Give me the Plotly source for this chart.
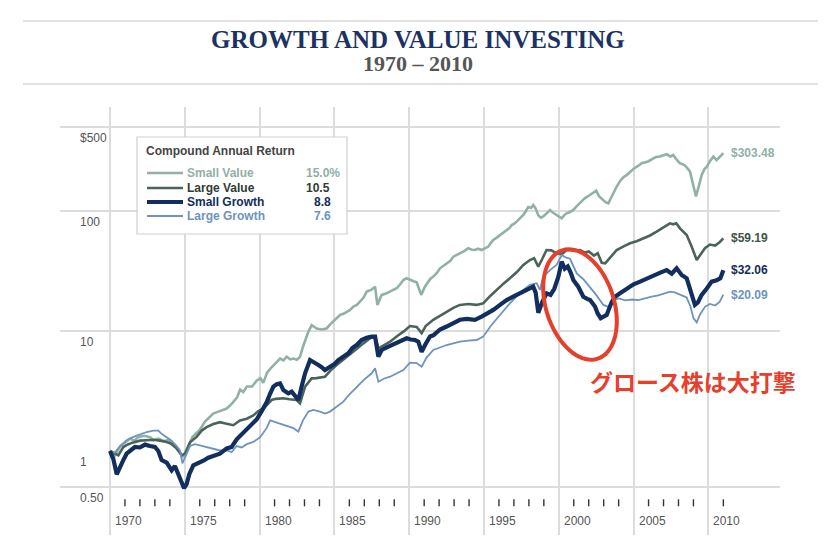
import math
import numpy as np
import plotly.graph_objects as go

# ---------------- data ----------------
SV_YEARS = [1970.0, 1970.33, 1970.67, 1971.0, 1971.35, 1971.6, 1971.9, 1972.3, 1972.7, 1972.9,
            1973.25, 1973.6, 1973.9, 1974.15, 1974.4, 1974.7, 1974.87, 1975.0, 1975.25, 1975.5,
            1975.8, 1976.0, 1976.35, 1976.7, 1976.9, 1977.2, 1977.45, 1977.8, 1978.15, 1978.5,
            1978.7, 1978.9, 1979.15, 1979.5, 1979.8, 1980.05, 1980.25, 1980.5, 1980.75, 1981.0,
            1981.37, 1981.6, 1981.81, 1982.05, 1982.26, 1982.5, 1982.7, 1982.9, 1983.04, 1983.25,
            1983.48, 1983.65, 1983.82, 1984.15, 1984.48, 1984.7, 1984.93, 1985.15, 1985.38, 1985.6,
            1985.82, 1986.05, 1986.27, 1986.5, 1986.71, 1986.95, 1987.16, 1987.45, 1987.72, 1987.87,
            1988.0, 1988.16, 1988.45, 1988.72, 1988.95, 1989.16, 1989.4, 1989.61, 1989.83, 1990.05,
            1990.3, 1990.5, 1990.65, 1990.8, 1991.06, 1991.2, 1991.39, 1991.61, 1991.85, 1992.06,
            1992.3, 1992.5, 1992.75, 1992.95, 1993.2, 1993.39, 1993.7, 1993.95, 1994.2, 1994.39,
            1994.6, 1994.84, 1995.05, 1995.29, 1995.45, 1995.62, 1995.85, 1996.07, 1996.3, 1996.51,
            1996.7, 1996.85, 1997.0, 1997.18, 1997.4, 1997.63, 1997.8, 1997.96, 1998.15, 1998.29,
            1998.45, 1998.63, 1998.8, 1998.96, 1999.2, 1999.41, 1999.6, 1999.85, 2000.0, 2000.19,
            2000.35, 2000.52, 2000.75, 2000.97, 2001.2, 2001.41, 2001.6, 2001.75, 2002.08, 2002.3,
            2002.5, 2002.7, 2002.98, 2003.15, 2003.31, 2003.55, 2003.87, 2004.1, 2004.3, 2004.55,
            2004.76, 2005.0, 2005.25, 2005.54, 2005.8, 2006.0, 2006.32, 2006.5, 2006.75, 2007.0,
            2007.21, 2007.45, 2007.65, 2007.9, 2008.1, 2008.3, 2008.5, 2008.77, 2008.95, 2009.17,
            2009.35, 2009.55, 2009.75, 2009.9, 2010.1, 2010.33, 2010.55, 2010.75, 2011.0]
SV_VALUES = [1.00, 0.92, 1.09, 1.18, 1.27, 1.22, 1.31, 1.34, 1.30, 1.23,
             1.27, 1.21, 1.23, 1.12, 1.07, 0.96, 0.90, 0.94, 1.12, 1.30,
             1.42, 1.50, 1.76, 1.95, 2.05, 2.12, 2.18, 2.26, 2.48, 2.80,
             3.25, 3.10, 3.45, 3.45, 3.85, 4.05, 3.70, 4.50, 4.90, 5.30,
             5.90, 5.70, 6.10, 5.80, 5.90, 5.75, 6.10, 7.40, 8.40, 9.80,
             11.2, 10.8, 10.5, 10.3, 10.5, 11.3, 12.0, 12.6, 13.6, 13.9,
             14.5, 15.0, 16.0, 16.5, 17.6, 19.0, 21.3, 22.0, 23.4, 16.5,
             18.0, 20.0, 20.5, 21.3, 21.8, 22.7, 24.5, 26.6, 27.5, 26.6,
             26.0, 25.5, 22.5, 20.0, 23.5, 25.0, 27.0, 28.4, 30.5, 33.3,
             35.0, 36.6, 38.5, 41.6, 43.0, 44.4, 46.5, 48.9, 47.5, 47.3,
             48.5, 47.3, 48.5, 50.5, 54.0, 57.3, 60.0, 63.1, 66.0, 69.5,
             72.0, 76.4, 78.0, 81.5, 87.0, 92.6, 100.0, 108.0, 106.0, 112.0,
             105.0, 92.0, 88.0, 90.0, 96.0, 102.0, 97.0, 92.6, 90.0, 87.0,
             92.0, 95.6, 98.0, 102.0, 110.0, 116.0, 122.0, 128.0, 136.0, 142.0,
             148.0, 132.0, 124.0, 118.0, 116.0, 135.0, 160.0, 178.0, 190.0, 200.0,
             213.0, 225.0, 235.0, 250.0, 255.0, 260.0, 275.0, 282.0, 285.0, 290.0,
             297.0, 285.0, 293.0, 265.0, 250.0, 245.0, 235.0, 213.0, 170.0, 132.0,
             160.0, 200.0, 225.0, 234.0, 260.0, 284.0, 265.0, 280.0, 303.48]

LV_YEARS = [1970.0, 1970.33, 1970.56, 1970.89, 1971.23, 1971.56, 1972.0, 1972.45, 1972.9, 1973.34,
            1973.79, 1974.12, 1974.46, 1974.79, 1975.01, 1975.35, 1975.79, 1976.13, 1976.46, 1976.91,
            1977.35, 1977.8, 1978.24, 1978.69, 1979.14, 1979.58, 1979.92, 1980.25, 1980.58, 1980.8,
            1981.1, 1981.59, 1982.0, 1982.48, 1982.7, 1982.9, 1983.04, 1983.48, 1983.8, 1984.37,
            1984.75, 1985.15, 1985.6, 1986.04, 1986.5, 1986.94, 1987.38, 1987.72, 1987.94, 1988.3,
            1988.72, 1989.16, 1989.61, 1990.05, 1990.5, 1990.83, 1991.1, 1991.61, 1992.05, 1992.5,
            1992.95, 1993.39, 1993.95, 1994.51, 1994.95, 1995.4, 1995.84, 1996.3, 1996.73, 1997.2,
            1997.63, 1998.07, 1998.35, 1998.63, 1998.9, 1999.18, 1999.5, 1999.85, 2000.19, 2000.52,
            2000.75, 2001.1, 2001.42, 2001.75, 2002.0, 2002.35, 2002.6, 2002.87, 2003.1, 2003.45,
            2003.87, 2004.3, 2004.76, 2005.2, 2005.65, 2006.1, 2006.54, 2007.0, 2007.43, 2007.65,
            2007.85, 2008.1, 2008.55, 2008.88, 2009.22, 2009.45, 2009.77, 2010.1, 2010.45, 2010.75,
            2011.0]
LV_VALUES = [1.00, 0.95, 0.92, 1.08, 1.14, 1.18, 1.22, 1.23, 1.24, 1.22,
             1.19, 1.15, 1.05, 0.92, 0.95, 1.18, 1.31, 1.48, 1.58, 1.68,
             1.74, 1.69, 1.64, 1.80, 1.86, 1.98, 2.15, 2.25, 2.50, 2.66,
             2.72, 2.75, 2.70, 2.66, 2.50, 3.00, 3.44, 4.03, 4.05, 4.16,
             4.70, 5.21, 5.75, 6.31, 7.10, 7.89, 8.69, 8.97, 7.17, 7.60,
             8.15, 9.00, 9.87, 11.0, 10.8, 9.6, 11.0, 12.4, 13.4, 14.5,
             15.6, 16.5, 16.8, 16.5, 17.0, 19.5, 22.0, 24.8, 27.5, 31.0,
             35.5, 39.0, 40.5, 34.4, 40.0, 47.3, 47.0, 44.4, 43.5, 47.3,
             47.3, 46.5, 47.3, 45.0, 46.0, 42.5, 44.5, 37.0, 36.6, 41.0,
             47.3, 50.5, 53.8, 56.0, 59.2, 62.5, 67.3, 73.0, 78.9, 77.5,
             79.0, 71.7, 63.0, 50.5, 39.0, 43.0, 48.9, 52.5, 51.5, 55.0,
             59.19]

SG_YEARS = [1970.0, 1970.22, 1970.45, 1970.67, 1970.89, 1971.11, 1971.34, 1971.67, 1972.0, 1972.34,
            1972.67, 1973.0, 1973.23, 1973.45, 1973.79, 1974.12, 1974.34, 1974.57, 1974.79, 1974.95,
            1975.12, 1975.3, 1975.57, 1975.9, 1976.24, 1976.57, 1977.02, 1977.35, 1977.8, 1978.13,
            1978.47, 1978.8, 1979.14, 1979.47, 1979.8, 1980.14, 1980.47, 1980.7, 1980.92, 1981.15,
            1981.37, 1981.59, 1981.92, 1982.15, 1982.37, 1982.59, 1982.81, 1983.04, 1983.37, 1983.59,
            1983.93, 1984.15, 1984.37, 1984.71, 1985.0, 1985.26, 1985.6, 1985.93, 1986.2, 1986.49,
            1986.82, 1987.15, 1987.49, 1987.72, 1987.94, 1988.16, 1988.5, 1988.83, 1989.15, 1989.5,
            1989.83, 1990.1, 1990.39, 1990.61, 1990.83, 1991.06, 1991.39, 1991.61, 1992.06, 1992.5,
            1992.95, 1993.39, 1993.85, 1994.39, 1994.84, 1995.25, 1995.62, 1996.07, 1996.51, 1996.95,
            1997.4, 1997.85, 1998.29, 1998.45, 1998.63, 1998.9, 1999.19, 1999.45, 1999.7, 1999.97,
            2000.19, 2000.4, 2000.6, 2000.8, 2000.97, 2001.3, 2001.64, 2001.9, 2002.09, 2002.42,
            2002.6, 2002.8, 2003.0, 2003.2, 2003.54, 2003.76, 2004.09, 2004.54, 2005.0, 2005.43,
            2005.9, 2006.32, 2006.75, 2007.21, 2007.55, 2007.88, 2008.21, 2008.55, 2008.88, 2009.1,
            2009.3, 2009.55, 2009.88, 2010.22, 2010.55, 2010.8, 2011.0]
SG_VALUES = [1.00, 0.86, 0.64, 0.75, 0.84, 0.95, 1.01, 1.08, 1.07, 1.13,
             1.10, 1.08, 1.00, 0.84, 0.80, 0.69, 0.75, 0.64, 0.55, 0.49,
             0.53, 0.64, 0.76, 0.79, 0.83, 0.88, 0.91, 0.95, 1.05, 1.08,
             1.25, 1.38, 1.50, 1.65, 1.83, 2.15, 2.55, 3.00, 3.44, 3.60,
             3.66, 3.22, 3.02, 3.12, 2.84, 2.66, 3.44, 4.44, 5.73, 5.55,
             5.21, 5.00, 4.73, 5.04, 5.30, 5.73, 6.10, 6.51, 7.20, 7.64,
             8.41, 8.80, 8.97, 8.97, 6.11, 6.95, 7.30, 7.64, 8.00, 8.41,
             8.69, 8.50, 8.41, 8.15, 6.70, 7.64, 9.00, 9.20, 10.3, 10.9,
             11.7, 12.4, 12.6, 12.4, 13.2, 14.0, 15.0, 16.5, 18.1, 19.3,
             20.6, 22.0, 23.4, 21.0, 14.2, 17.5, 20.6, 20.0, 22.5, 28.4,
             37.8, 33.0, 34.5, 30.5, 26.6, 23.4, 19.3, 18.5, 18.1, 16.0,
             14.0, 12.8, 13.2, 13.6, 17.5, 19.3, 20.6, 22.7, 24.5, 25.8,
             27.5, 29.3, 30.5, 32.2, 30.0, 33.3, 29.3, 27.5, 20.0, 16.5,
             17.3, 20.0, 22.5, 25.8, 26.5, 27.5, 32.06]

LG_YEARS = [1970.0, 1970.33, 1970.67, 1971.11, 1971.56, 1972.0, 1972.45, 1972.9, 1973.23, 1973.45,
            1973.79, 1974.12, 1974.46, 1974.68, 1974.84, 1975.12, 1975.35, 1975.68, 1976.02, 1976.46,
            1976.91, 1977.35, 1977.8, 1978.13, 1978.47, 1978.8, 1979.14, 1979.58, 1980.03, 1980.47,
            1980.7, 1981.0, 1981.3, 1981.81, 1982.26, 1982.59, 1982.9, 1983.26, 1983.6, 1984.04,
            1984.37, 1984.71, 1985.15, 1985.6, 1986.04, 1986.49, 1986.95, 1987.49, 1987.72, 1987.94,
            1988.3, 1988.72, 1989.16, 1989.61, 1990.05, 1990.5, 1990.83, 1991.16, 1991.61, 1992.05,
            1992.5, 1992.95, 1993.39, 1993.95, 1994.51, 1994.95, 1995.4, 1995.84, 1996.3, 1996.73,
            1997.2, 1997.63, 1998.07, 1998.52, 1998.74, 1998.96, 1999.41, 1999.85, 2000.2, 2000.45,
            2000.75, 2001.2, 2001.64, 2002.09, 2002.5, 2002.98, 2003.31, 2003.65, 2004.0, 2004.45,
            2004.9, 2005.32, 2005.75, 2006.21, 2006.65, 2007.0, 2007.43, 2007.75, 2008.1, 2008.55,
            2008.8, 2009.0, 2009.22, 2009.45, 2009.77, 2010.1, 2010.45, 2010.75, 2011.0]
LG_VALUES = [1.00, 0.97, 1.10, 1.23, 1.31, 1.38, 1.44, 1.48, 1.48, 1.39,
             1.31, 1.22, 1.10, 1.01, 0.79, 0.95, 1.10, 1.14, 1.11, 1.08,
             1.05, 1.01, 1.01, 0.98, 1.10, 1.07, 1.14, 1.19, 1.30, 1.55,
             1.80, 1.75, 1.70, 1.60, 1.55, 1.45, 1.80, 2.13, 2.20, 2.13,
             2.05, 2.13, 2.35, 2.58, 3.00, 3.44, 3.90, 4.44, 4.89, 3.78,
             4.00, 4.16, 4.45, 4.73, 5.45, 5.40, 5.04, 6.00, 6.95, 7.30,
             7.64, 7.90, 8.15, 8.30, 8.41, 8.97, 10.8, 12.6, 14.8, 17.0,
             19.5, 22.0, 24.2, 25.0, 22.0, 28.4, 32.2, 35.5, 43.0, 41.0,
             40.0, 30.2, 27.0, 23.1, 20.0, 16.5, 15.9, 18.0, 18.7, 18.0,
             18.3, 18.1, 18.8, 19.3, 19.8, 20.5, 21.3, 21.0, 20.0, 19.0,
             16.0, 12.8, 11.8, 13.8, 15.9, 16.8, 16.3, 17.5, 20.09]

SERIES_NAMES = ["Small Value", "Large Value", "Small Growth", "Large Growth"]
SERIES_RETURNS = ["15.0%", "10.5", "8.8", "7.6"]
END_LABELS = ["$303.48", "$59.19", "$32.06", "$20.09"]

Y_TICK_VALUES = [500, 100, 10, 1, 0.5]
Y_TICK_LABELS = ["$500", "100", "10", "1", "0.50"]
X_TICK_YEARS = [1970, 1975, 1980, 1985, 1990, 1995, 2000, 2005, 2010]
MINOR_TICK_YEARS = [y for y in range(1971, 2012) if y % 5 != 0]

TITLE = "GROWTH AND VALUE INVESTING"
SUBTITLE = "1970 \u2013 2010"
LEGEND_TITLE = "Compound Annual Return"
CALLOUT = "グロース株は大打撃"

# ---------------- styling ----------------
COLORS = ["#8fb1a7", "#4b6459", "#112e5e", "#6e93bd"]
TEXT_COLORS = ["#8fb1a7", "#2f3b36", "#112e5e", "#6e93bd"]
WIDTHS = [2.6, 2.6, 4.2, 1.8]
SANS = "Liberation Sans, Arial, Helvetica, sans-serif"
SERIF = "Liberation Serif, Times New Roman, serif"
CJK = "Noto Sans CJK JP, Noto Sans CJK SC, sans-serif"

W, H = 840, 551
L, R, T, B = 60, 60, 107, 16
PW, PH = W - L - R, H - T - B


def px(X):
    return (X - L) / PW


def py(Y):
    return (H - B - Y) / PH


PX_PER_YEAR = 14.96
X0_PIX = 110.0
X_RANGE = [1970 + (L - X0_PIX) / PX_PER_YEAR, 1970 + (W - R - X0_PIX) / PX_PER_YEAR]
Y_RANGE = [(451 - (H - B)) / 120.0, (451 - T) / 120.0]

fig = go.Figure()

series = [(SV_YEARS, SV_VALUES), (LV_YEARS, LV_VALUES), (LG_YEARS, LG_VALUES), (SG_YEARS, SG_VALUES)]
order = [0, 1, 3, 2]
for k, (xs, ys) in zip(order, series):
    assert len(xs) == len(ys)
    fig.add_trace(go.Scatter(x=xs, y=ys, mode="lines", name=SERIES_NAMES[k],
                             line=dict(color=COLORS[k], width=WIDTHS[k]),
                             hoverinfo="skip", showlegend=False))

# small year ticks
fig.add_trace(go.Scatter(x=MINOR_TICK_YEARS, y=[0.37] * len(MINOR_TICK_YEARS), mode="markers",
                         marker=dict(symbol="line-ns", size=5, line=dict(color="#333333", width=1.4)),
                         hoverinfo="skip", showlegend=False))

shapes = []
annotations = []

# dark reference line at $1
shapes.append(dict(type="line", xref="paper", yref="y", x0=0, x1=1, y0=0, y1=0,
                   line=dict(color="#8c8c8c", width=2), layer="below"))

# title rules
for Yl in (21, 84):
    shapes.append(dict(type="line", xref="paper", yref="paper", x0=px(23), x1=px(818),
                       y0=py(Yl), y1=py(Yl), line=dict(color="#d8d8d8", width=1.5)))

# title
annotations.append(dict(text="<b>" + TITLE + "</b>", xref="paper", yref="paper", x=px(418), y=py(39),
                        xanchor="center", yanchor="middle", showarrow=False,
                        font=dict(family=SERIF, size=25, color="#1b3263")))
annotations.append(dict(text="<b>" + SUBTITLE + "</b>", xref="paper", yref="paper", x=px(418), y=py(63),
                        xanchor="center", yanchor="middle", showarrow=False,
                        font=dict(family=SERIF, size=22, color="#555555")))

# y tick labels
for v, lab in zip(Y_TICK_VALUES, Y_TICK_LABELS):
    annotations.append(dict(text=lab, xref="paper", yref="y", x=px(78), y=math.log10(v),
                            xanchor="left", yanchor="middle", yshift=-11, showarrow=False,
                            font=dict(family=SANS, size=12, color="#555555")))

# x tick labels
for yr in X_TICK_YEARS:
    annotations.append(dict(text=str(yr), xref="x", yref="paper", x=yr, y=py(521),
                            xanchor="left", yanchor="middle", xshift=3, showarrow=False,
                            font=dict(family=SANS, size=12, color="#555555")))

# end labels
ends = [SV_VALUES[-1], LV_VALUES[-1], SG_VALUES[-1], LG_VALUES[-1]]
for k in range(4):
    annotations.append(dict(text="<b>" + END_LABELS[k] + "</b>", xref="x", yref="y",
                            x=2011.0, y=math.log10(ends[k]), xanchor="left", yanchor="middle",
                            xshift=6, showarrow=False,
                            font=dict(family=SANS, size=12, color=COLORS[k] if k != 1 else "#3f5449")))

# legend box
shapes.append(dict(type="rect", xref="paper", yref="paper", x0=px(137), x1=px(347), y0=py(234), y1=py(137),
                   line=dict(color="#cfcfcf", width=1.2), fillcolor="white", layer="above"))
annotations.append(dict(text="<b>" + LEGEND_TITLE + "</b>", xref="paper", yref="paper", x=px(144), y=py(151),
                        xanchor="left", yanchor="middle", showarrow=False,
                        font=dict(family=SANS, size=12, color="#444444")))
rows_y = [173, 188, 202, 216]
ret_x = [304, 304, 312, 312]
for k in range(4):
    shapes.append(dict(type="line", xref="paper", yref="paper", x0=px(147), x1=px(183),
                       y0=py(rows_y[k]), y1=py(rows_y[k]),
                       line=dict(color=COLORS[k], width=WIDTHS[k] - (0.4 if k == 2 else 0)), layer="above"))
    annotations.append(dict(text="<b>" + SERIES_NAMES[k] + "</b>", xref="paper", yref="paper",
                            x=px(185), y=py(rows_y[k]), xanchor="left", yanchor="middle", showarrow=False,
                            font=dict(family=SANS, size=12, color=TEXT_COLORS[k])))
    annotations.append(dict(text="<b>" + SERIES_RETURNS[k] + "</b>", xref="paper", yref="paper",
                            x=px(ret_x[k]), y=py(rows_y[k]), xanchor="left", yanchor="middle", showarrow=False,
                            font=dict(family=SANS, size=12, color=TEXT_COLORS[k])))

# red ellipse highlight
cx, cy, a, b = 580.0, 304.5, 57.0, 34.0
th = math.radians(18)
u = np.array([math.sin(th), math.cos(th)])
v = np.array([math.cos(th), -math.sin(th)])
ts = np.linspace(0, 2 * math.pi, 73)
pts = [np.array([cx, cy]) + a * math.cos(t) * u + b * math.sin(t) * v for t in ts]
path = "M " + " L ".join(f"{px(p[0]):.5f},{py(p[1]):.5f}" for p in pts) + " Z"
shapes.append(dict(type="path", xref="paper", yref="paper", path=path,
                   line=dict(color="#e63f2c", width=4), layer="above"))

annotations.append(dict(text="<b>" + CALLOUT + "</b>", xref="paper", yref="paper", x=px(588), y=py(381),
                        xanchor="left", yanchor="middle", showarrow=False,
                        font=dict(family=CJK, size=23, color="#e63f2c")))

fig.update_layout(
    width=W, height=H,
    margin=dict(l=L, r=R, t=T, b=B, pad=0),
    paper_bgcolor="white", plot_bgcolor="white",
    showlegend=False,
    shapes=shapes, annotations=annotations,
    xaxis=dict(range=X_RANGE, tickmode="array", tickvals=X_TICK_YEARS, showticklabels=False,
               showgrid=True, gridcolor="#dcdcdc", gridwidth=1.5, zeroline=False, showline=False,
               ticks="", fixedrange=True),
    yaxis=dict(type="log", range=Y_RANGE, tickmode="array", tickvals=[500, 100, 10, 0.5],
               showticklabels=False, showgrid=True, gridcolor="#dcdcdc", gridwidth=1.5,
               zeroline=False, showline=False, ticks="", fixedrange=True),
)

fig.write_html("out.html", config={"displayModeBar": False},
               post_script="document.body.style.margin='0px';document.body.style.overflow='hidden';")
